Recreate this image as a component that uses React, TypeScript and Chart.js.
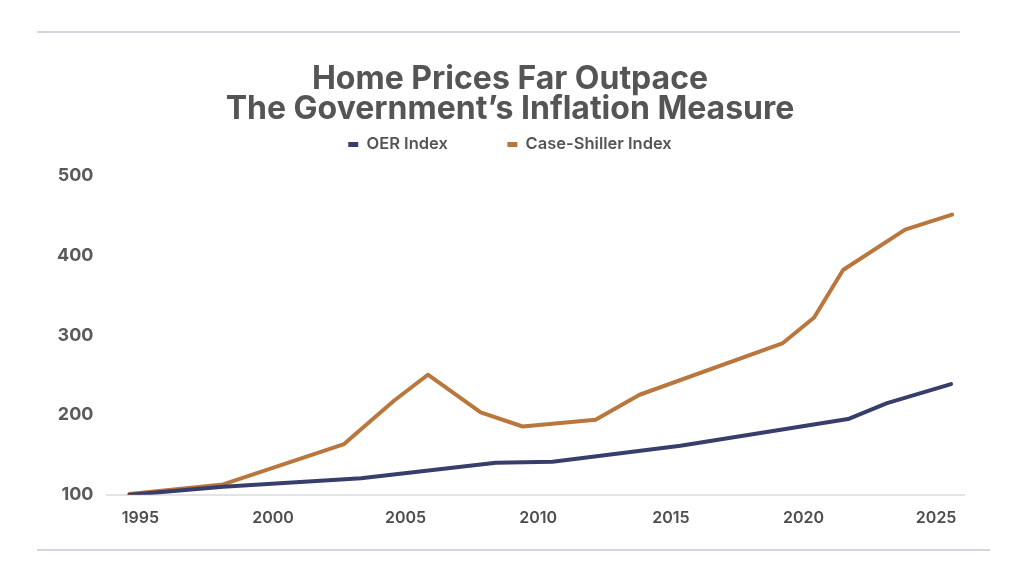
import React, { useEffect, useRef } from 'react';
import { Chart, registerables } from 'chart.js';

Chart.register(...registerables);

const TITLE_LINES = ['Home Prices Far Outpace', 'The Government’s Inflation Measure'];
const SERIES_NAMES = ['OER Index', 'Case-Shiller Index'];
const SERIES_COLORS = ['#383e6b', '#b9773e'];
const X_TICKS = [1995, 2000, 2005, 2010, 2015, 2020, 2025];
const Y_MIN = 100;
const Y_MAX = 500;
const Y_STEP = 100;

const OER_YEARS = [1994.59, 1998.12, 2003.32, 2008.4, 2010.54, 2012.35, 2015.36, 2021.68, 2023.15, 2025.56];
const OER_VALUES = [100, 110, 120.7, 140.1, 141.4, 149, 161.4, 194.9, 215, 238.8];

const CS_YEARS = [1994.59, 1998.12, 2002.68, 2004.56, 2005.84, 2007.83, 2009.41, 2012.16, 2013.82, 2019.2, 2020.4, 2021.49, 2023.83, 2025.6];
const CS_VALUES = [101, 113, 163.6, 217.9, 250.5, 203.2, 185.6, 194, 225.4, 289.7, 322.3, 381.8, 432.3, 451.1];

const X_MIN = 1993.76;
const X_MAX = 2026.05;

const legendSpacing = {
  id: 'legendSpacing',
  beforeInit(chart: any) {
    const legend = chart.legend;
    if (!legend) return;
    const origFit = legend.fit;
    legend.fit = function () {
      origFit.call(this);
      this.height += 13;
    };
  },
};

export default function App() {
  const canvasRef = useRef<HTMLCanvasElement | null>(null);

  useEffect(() => {
    if (!canvasRef.current) return;
    const toPoints = (xs: number[], ys: number[]) => xs.map((x, i) => ({ x, y: ys[i] }));
    const chart = new Chart(canvasRef.current, {
      type: 'line',
      data: {
        datasets: [
          {
            label: SERIES_NAMES[0],
            data: toPoints(OER_YEARS, OER_VALUES),
            borderColor: SERIES_COLORS[0],
            backgroundColor: SERIES_COLORS[0],
            borderWidth: 4,
            pointRadius: 0,
            tension: 0,
            borderCapStyle: 'round',
            borderJoinStyle: 'round',
          },
          {
            label: SERIES_NAMES[1],
            data: toPoints(CS_YEARS, CS_VALUES),
            borderColor: SERIES_COLORS[1],
            backgroundColor: SERIES_COLORS[1],
            borderWidth: 4,
            pointRadius: 0,
            tension: 0,
            borderCapStyle: 'round',
            borderJoinStyle: 'round',
          },
        ],
      },
      options: {
        animation: false,
        responsive: true,
        maintainAspectRatio: false,
        layout: { padding: { top: 0, left: 56, right: 60, bottom: 34 } },
        plugins: {
          title: {
            display: true,
            text: TITLE_LINES,
            color: '#555555',
            font: { family: 'Inter', size: 32, weight: 'bold', lineHeight: 0.94 },
            padding: { top: 64, bottom: 2 },
          },
          legend: {
            display: true,
            position: 'top',
            labels: {
              color: '#555555',
              font: { family: 'Inter', size: 16.5, weight: 600 },
              boxWidth: 10,
              boxHeight: 5,
              padding: 10,
              generateLabels(chart: any) {
                const items = Chart.defaults.plugins.legend.labels.generateLabels(chart);
                return items.map((it: any, i: number) => ({
                  ...it,
                  text: i < items.length - 1 ? it.text + '\u2003\u2003\u2003' : it.text,
                  lineWidth: 0,
                  fillStyle: SERIES_COLORS[i],
                }));
              },
            },
          },
          tooltip: { enabled: false },
        },
        scales: {
          x: {
            type: 'linear',
            min: X_MIN,
            max: X_MAX,
            afterBuildTicks(scale: any) {
              scale.ticks = X_TICKS.map((v) => ({ value: v }));
            },
            ticks: {
              callback: (v: any) => String(v),
              color: '#4d4d4d',
              font: { family: 'Inter', size: 16, weight: 600 },
              padding: 14,
              maxRotation: 0,
              autoSkip: false,
            },
            grid: { display: false, drawTicks: false },
            border: { display: true, color: '#e3e3e6', width: 2 },
          },
          y: {
            min: Y_MIN,
            max: Y_MAX,
            afterFit(scale: any) {
              scale.width -= 13;
            },
            ticks: {
              stepSize: Y_STEP,
              color: '#5a5a5a',
              font: { family: 'Inter', size: 18, weight: 'bold' },
              padding: 14,
            },
            grid: { display: false, drawTicks: false },
            border: { display: false },
          },
        },
      },
      plugins: [legendSpacing],
    });
    return () => chart.destroy();
  }, []);

  return (
    <div style={{ position: 'fixed', left: 0, top: 0, width: 1024, height: 576, background: '#ffffff' }}>
      <div style={{ position: 'absolute', left: 37, top: 31, width: 923, height: 2, background: '#d5d5e2' }} />
      <div style={{ position: 'absolute', left: 37, top: 549, width: 953, height: 2, background: '#d5d5e2' }} />
      <div style={{ position: 'absolute', left: 0, top: 0, width: 1024, height: 576 }}>
        <canvas ref={canvasRef} />
      </div>
    </div>
  );
}
